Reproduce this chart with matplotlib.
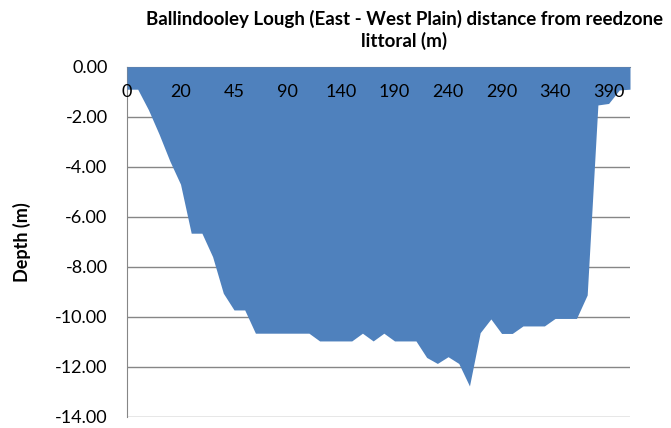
import matplotlib
matplotlib.use("Agg")
import matplotlib.pyplot as plt
import numpy as np

distance = [0, 1, 5, 10, 15, 20, 25, 30, 35, 40, 45, 50, 60, 70, 80, 90,
            100, 110, 120, 130, 140, 150, 160, 170, 180, 190, 200, 210, 220, 230,
            240, 250, 260, 270, 280, 290, 300, 310, 320, 330, 340, 350, 360, 370,
            380, 390, 400, 410]
depth = [-0.90, -0.90, -1.72, -2.70, -3.77, -4.70, -6.66, -6.66, -7.60, -9.06,
         -9.73, -9.73, -10.66, -10.66, -10.66, -10.66, -10.66, -10.66, -10.97, -10.97,
         -10.97, -10.97, -10.66, -10.97, -10.66, -10.97, -10.97, -10.97, -11.63, -11.87,
         -11.60, -11.87, -12.77, -10.64, -10.09, -10.67, -10.67, -10.37, -10.37, -10.37,
         -10.07, -10.07, -10.07, -9.13, -1.53, -1.47, -0.93, -0.90]
yticks = [0, -2, -4, -6, -8, -10, -12, -14]
title = "Ballindooley Lough (East - West Plain) distance from reedzone\nlittoral (m)"
ylabel = "Depth (m)"

plt.rcParams['font.family'] = ['Lato', 'DejaVu Sans']

W, H = 671, 428
fig = plt.figure(figsize=(W / 100, H / 100), dpi=100)
L, R, T, B = 127, 630, 66.7, 416.7
ax = fig.add_axes([L / W, 1 - B / H, (R - L) / W, (B - T) / H])

x = np.arange(len(depth))
ax.fill_between(x, 0, depth, color='#4F81BD', linewidth=0, zorder=3)

ax.set_xlim(0, len(depth) - 1)
ax.set_ylim(-14, 0)
ax.set_yticks(yticks)
ax.set_yticklabels([f"{v:.2f}" for v in yticks])
ax.yaxis.grid(True, color='#868686', linewidth=1.0)
ax.set_axisbelow(True)

lab_idx = list(range(0, len(distance), 5))
ax.set_xticks(lab_idx)
ax.set_xticklabels([str(distance[i]) for i in lab_idx])
ax.tick_params(axis='x', top=False, bottom=False, labeltop=True, labelbottom=False,
               length=0, pad=-24, labelsize=13, colors='black')
ax.xaxis.set_zorder(5)
ax.tick_params(axis='y', length=0, pad=14, labelsize=13, colors='black')

for s in ['right', 'bottom']:
    ax.spines[s].set_visible(False)
ax.spines['left'].set_color('#868686')
ax.spines['top'].set_color('#868686')
ax.spines['top'].set_zorder(2)

fig.text(404 / W, 1 - 30 / H, title, ha='center', va='center', fontsize=13.5,
         fontweight='bold', linespacing=1.3)
fig.text(22 / W, 1 - ((T + B) / 2) / H, ylabel, ha='center', va='center',
         rotation=90, fontsize=13, fontweight='bold')

fig.savefig("out.png", dpi=100)
